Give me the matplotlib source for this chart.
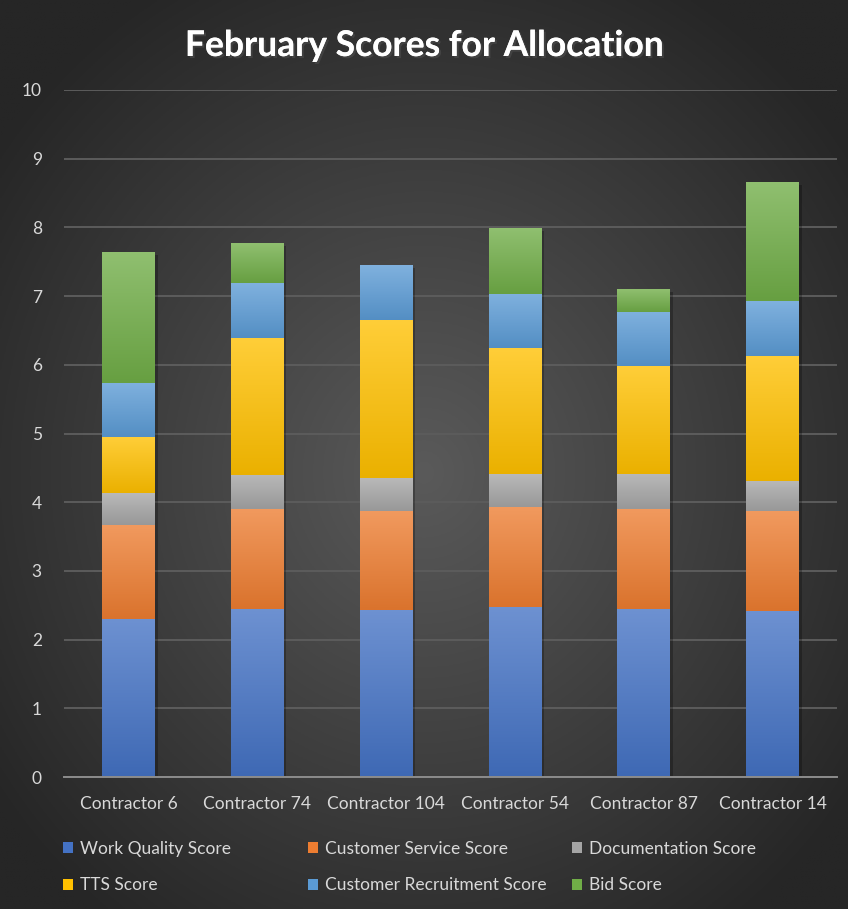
import matplotlib
matplotlib.use('Agg')
import matplotlib.pyplot as plt
import matplotlib.patheffects as pe
from matplotlib.patches import Patch
import numpy as np
from matplotlib.colors import to_rgb

# data
contractors = ['Contractor 6', 'Contractor 74', 'Contractor 104',
               'Contractor 54', 'Contractor 87', 'Contractor 14']
work_quality = [2.30, 2.44, 2.43, 2.47, 2.44, 2.42]
customer_service = [1.37, 1.46, 1.44, 1.46, 1.46, 1.45]
documentation = [0.46, 0.50, 0.48, 0.48, 0.51, 0.44]
tts = [0.82, 1.99, 2.30, 1.83, 1.57, 1.82]
customer_recruitment = [0.79, 0.80, 0.80, 0.79, 0.79, 0.80]
bid = [1.90, 0.58, 0.00, 0.96, 0.33, 1.73]

series_names = ['Work Quality Score', 'Customer Service Score', 'Documentation Score',
                'TTS Score', 'Customer Recruitment Score', 'Bid Score']
series_values = [work_quality, customer_service, documentation,
                 tts, customer_recruitment, bid]
colors = ['#4472C4', '#ED7D31', '#A5A5A5', '#FFC000', '#5B9BD5', '#70AD47']

plt.rcParams['font.family'] = ['Lato', 'DejaVu Sans']
W, H = 848, 909
fig = plt.figure(figsize=(W / 100, H / 100), dpi=100)


def mix(c, other, t):
    c = np.array(to_rgb(c))
    o = np.array(to_rgb(other))
    return c * (1 - t) + o * t


# radial background
bg = fig.add_axes([0, 0, 1, 1], zorder=-10)
yy, xx = np.mgrid[0:1:400j, 0:1:400j]
r = np.sqrt(((xx - 0.5) / 0.62) ** 2 + ((yy - 0.52) / 0.62) ** 2)
r = np.clip(r, 0, 1)
c_in = np.array(to_rgb('#5a5a5a'))
c_out = np.array(to_rgb('#262626'))
img = c_in[None, None, :] * (1 - r[..., None]) + c_out[None, None, :] * r[..., None]
bg.imshow(img, extent=[0, 1, 0, 1], aspect='auto', origin='upper')
bg.axis('off')

ax = fig.add_axes([64 / W, 1 - 777 / H, (837 - 64) / W, (777 - 90) / H])
ax.set_facecolor('none')

x = np.arange(len(contractors))
bottom = np.zeros(len(contractors))
bar_width = 0.41
for name, vals, col in zip(series_names, series_values, colors):
    vals = np.array(vals)
    bars = ax.bar(x, vals, bar_width, bottom=bottom, color=col, label=name,
                  zorder=3, linewidth=0)
    grad = np.linspace(0, 1, 64)[:, None, None]
    top_c = mix(col, 'white', 0.22)
    bot_c = mix(col, 'black', 0.08)
    gimg = top_c * (1 - grad) + bot_c * grad
    for b in bars:
        if b.get_height() <= 0:
            continue
        b.set_path_effects([pe.SimplePatchShadow(offset=(2, -2), shadow_rgbFace='black',
                                                 alpha=0.25), pe.Normal()])
        bx, by = b.get_x(), b.get_y()
        im = ax.imshow(gimg, extent=[bx, bx + b.get_width(), by, by + b.get_height()],
                       aspect='auto', origin='upper', zorder=4)
        im.set_clip_path(b)
    bottom += vals

ax.set_xlim(-0.5, len(contractors) - 0.5)
ax.set_ylim(0, 10)
ax.set_aspect('auto')
ax.set_yticks(range(0, 11))
ax.set_xticks(x)
ax.set_xticklabels(contractors)
ax.grid(axis='y', color='#5c5c5c', linewidth=1.4, zorder=0)
ax.tick_params(axis='both', length=0, colors='#d9d9d9', labelsize=12.5)
ax.tick_params(axis='x', pad=14)
ax.tick_params(axis='y', pad=16)
for s in ['top', 'right', 'left']:
    ax.spines[s].set_visible(False)
ax.spines['bottom'].set_color('#8c8c8c')
ax.spines['bottom'].set_linewidth(1.4)
ax.spines['bottom'].set_zorder(5)

fig.text(0.5, 1 - 46 / H, 'February Scores for Allocation', ha='center', va='center',
         fontsize=25.5, fontweight='bold', color='white',
         path_effects=[pe.withSimplePatchShadow(offset=(1.5, -1.5), alpha=0.6),
                       pe.Normal()])

# legend laid out in three fixed columns like the original
col_left = [63, 308, 572]
for j in range(3):
    handles = [Patch(facecolor=colors[k], edgecolor='none') for k in (j, j + 3)]
    labels = [series_names[k] for k in (j, j + 3)]
    fig.legend(handles, labels, loc='center left',
               bbox_to_anchor=(col_left[j] / W, 1 - 867 / H),
               frameon=False, fontsize=12.5, labelcolor='#d9d9d9',
               handlelength=0.6, handleheight=0.6, handletextpad=0.4,
               labelspacing=1.2, borderpad=0, borderaxespad=0)

fig.savefig('out.png', dpi=100)
